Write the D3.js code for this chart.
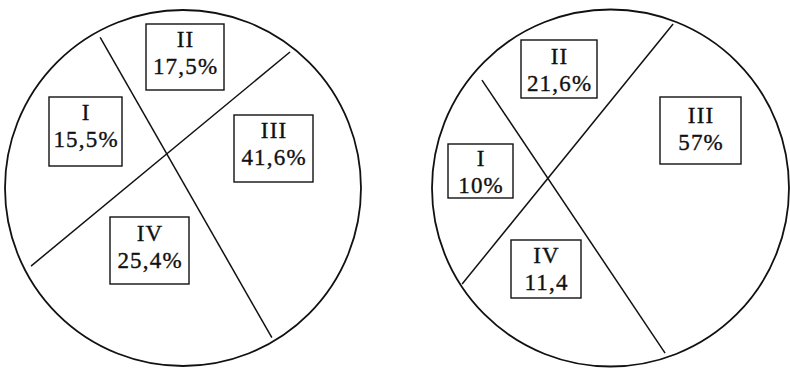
<!DOCTYPE html>
<html>
<head>
<meta charset="utf-8">
<script src="https://cdn.jsdelivr.net/npm/d3@7"></script>
<style>
  html, body { margin: 0; padding: 0; background: #fff; }
  svg { display: block; }
  .lbl { font-family: "Liberation Serif", "Times New Roman", serif; font-size: 23px; letter-spacing: 1.2px; fill: #111; stroke: #111; stroke-width: 0.35px; }
</style>
</head>
<body>
<svg id="chart" width="790" height="368"></svg>
<script>
// sector names and shares, as printed
const categories = ['I', 'II', 'III', 'IV'];
const leftShares = ['15,5%', '17,5%', '41,6%', '25,4%'];
const rightShares = ['10%', '21,6%', '57%', '11,4'];

// layout: circle, the two chords (angle deg, radius fraction for each end), label boxes [x, y, w, h, baselineOffset]
let panels = [
  { cx: 183, cy: 188, r: 178, shares: leftShares,
    chords: [[-118.8, 0.966, 59.3, 0.978], [-51.8, 0.972, 152.8, 0.96]],
    boxes: [[49, 97, 73, 69, 23], [146, 24, 78, 66, 23], [234, 115, 79, 67, 23], [110, 217, 79, 67, 24]] },
  { cx: 610.5, cy: 188, r: 178.5, shares: rightShares,
    chords: [[-140, 0.94, 71.7, 0.974], [-69.1, 0.983, 147.1, 0.99]],
    boxes: [[448, 144, 65, 54, 22], [521, 40, 76, 58, 24], [660, 97, 81, 67, 26], [511, 240, 70, 58, 23]] }
];

const svg = d3.select('#chart');
const rad = d3.scaleLinear().domain([0, 180]).range([0, Math.PI]);
const line = d3.line();

panels.forEach((p) => {
  let g = svg.append('g');

  g.append('circle')
   .attr('cx', p.cx).attr('cy', p.cy).attr('r', p.r)
   .attr('fill', 'none').attr('stroke', '#111').attr('stroke-width', 1.8);

  // point on the circle at angle a (clockwise from 3 o'clock)
  let pt = (a, f) => [p.cx + Math.cos(rad(a)) * p.r * f, p.cy + Math.sin(rad(a)) * p.r * f];

  g.selectAll('path.chord')
   .data(p.chords)
   .enter()
   .append('path')
   .attr('class', 'chord')
   .attr('d', (c) => line([pt(c[0], c[1]), pt(c[2], c[3])]))
   .attr('fill', 'none').attr('stroke', '#111').attr('stroke-width', 1.5);

  let lbl = g.selectAll('g.box')
             .data(categories.map((c, i) => ({ name: c, share: p.shares[i], box: p.boxes[i] })))
             .enter()
             .append('g')
             .attr('class', 'box');

  lbl.append('rect')
     .attr('x', (d) => d.box[0]).attr('y', (d) => d.box[1])
     .attr('width', (d) => d.box[2]).attr('height', (d) => d.box[3])
     .attr('fill', '#fff').attr('stroke', '#111').attr('stroke-width', 1.4);

  lbl.append('text')
     .attr('class', 'lbl')
     .attr('text-anchor', 'middle')
     .attr('x', (d) => d.box[0] + d.box[2] / 2 + 0.6)
     .attr('y', (d) => d.box[1] + d.box[4])
     .text((d) => d.name);

  lbl.append('text')
     .attr('class', 'lbl')
     .attr('text-anchor', 'middle')
     .attr('x', (d) => d.box[0] + d.box[2] / 2 + 0.6)
     .attr('y', (d) => d.box[1] + d.box[4] + 27)
     .text((d) => d.share);
});
</script>
</body>
</html>
